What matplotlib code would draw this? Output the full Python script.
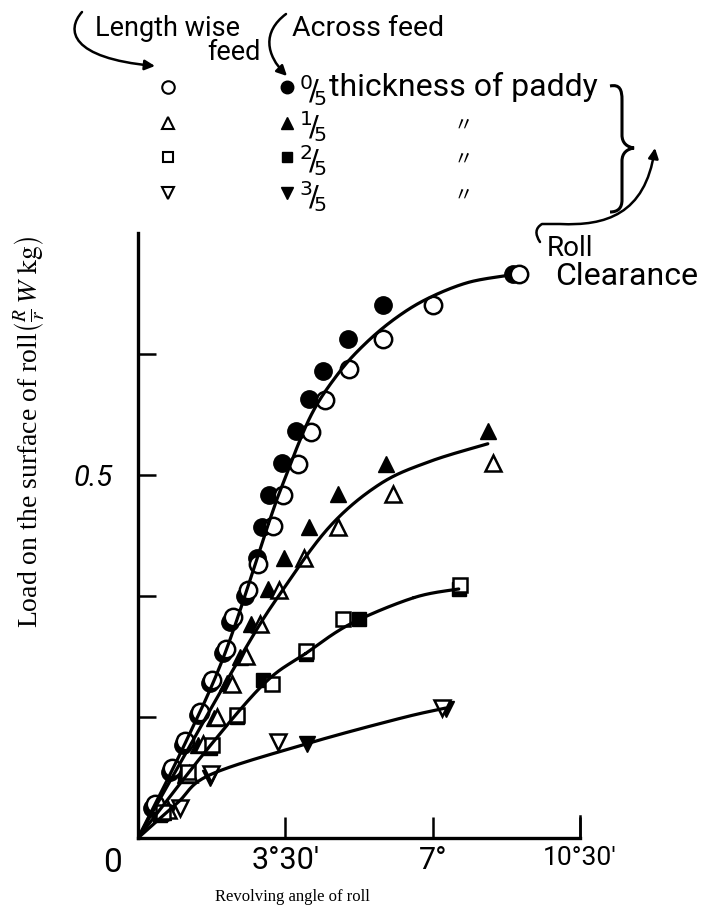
import matplotlib
matplotlib.use("Agg")
import matplotlib.pyplot as plt
from matplotlib.path import Path
from matplotlib.patches import FancyArrowPatch, PathPatch
import numpy as np

# revolving angle of roll (degrees) and load on roll surface (R/r W kg)
# 0/5 thickness of paddy
circ_x_across = [0.33, 0.76, 1.07, 1.43, 1.71, 2.02, 2.19, 2.55, 2.83, 2.95, 3.12, 3.43, 3.76, 4.07, 4.40, 5.00, 5.83, 8.90]
circ_y_across = [0.041, 0.091, 0.128, 0.169, 0.213, 0.255, 0.297, 0.334, 0.385, 0.429, 0.473, 0.516, 0.560, 0.604, 0.643, 0.688, 0.734, 0.777]
circ_x_length = [0.40, 0.81, 1.12, 1.48, 1.76, 2.10, 2.26, 2.62, 2.86, 3.21, 3.45, 3.79, 4.10, 4.45, 5.02, 5.81, 7.00, 9.05]
circ_y_length = [0.047, 0.096, 0.133, 0.174, 0.218, 0.261, 0.304, 0.341, 0.378, 0.430, 0.473, 0.515, 0.559, 0.603, 0.646, 0.688, 0.734, 0.777]
circ_curve_x = [0, 1.10, 2.07, 3.10, 3.45, 4.10, 4.76, 5.40, 6.12, 6.88, 7.83, 8.79]
circ_curve_y = [0, 0.128, 0.255, 0.433, 0.489, 0.581, 0.640, 0.681, 0.716, 0.743, 0.765, 0.775]

# 1/5 thickness
tri_x_across = [0.60, 1.12, 1.43, 1.81, 2.12, 2.43, 2.69, 3.10, 3.48, 4.07, 4.76, 5.88, 8.31]
tri_y_across = [0.036, 0.087, 0.128, 0.165, 0.213, 0.249, 0.295, 0.343, 0.385, 0.429, 0.474, 0.515, 0.560]
tri_x_length = [0.71, 1.21, 1.55, 1.88, 2.24, 2.57, 2.90, 3.36, 3.95, 4.74, 6.05, 8.43]
tri_y_length = [0.038, 0.088, 0.129, 0.166, 0.212, 0.251, 0.295, 0.341, 0.385, 0.429, 0.474, 0.516]
tri_curve_x = [0, 2.43, 3.43, 4.57, 5.76, 6.95, 8.31]
tri_curve_y = [0, 0.249, 0.341, 0.430, 0.488, 0.519, 0.543]

# 2/5 thickness
sq_x_across = [0.52, 1.12, 1.71, 2.36, 2.98, 3.98, 5.24, 7.62]
sq_y_across = [0.032, 0.087, 0.124, 0.166, 0.217, 0.254, 0.302, 0.343]
sq_x_length = [0.60, 1.19, 1.76, 2.36, 3.19, 4.00, 4.88, 7.64]
sq_y_length = [0.036, 0.091, 0.128, 0.170, 0.212, 0.258, 0.302, 0.349]
sq_curve_x = [0, 1.67, 3.02, 3.98, 5.05, 6.55, 7.62]
sq_curve_y = [0, 0.124, 0.214, 0.254, 0.295, 0.331, 0.343]

# 3/5 thickness
dtri_x_across = [0.71, 1.71, 4.02, 7.31]
dtri_y_across = [0.034, 0.082, 0.130, 0.177]
dtri_x_length = [1.00, 1.74, 3.33, 7.21]
dtri_y_length = [0.041, 0.088, 0.132, 0.179]
dtri_curve_x = [0, 0.93, 1.71, 4.02, 6.24, 7.31]
dtri_curve_y = [0, 0.048, 0.087, 0.130, 0.165, 0.179]

x_ticks = [3.5, 7.0, 10.5]
x_ticklabels = ['3°30′', '7°', '10°30′']
y_ticks = [1/6, 2/6, 3/6, 4/6]
y_ticklabels = ['', '', '0.5', '']

W, H = 714, 921
fig = plt.figure(figsize=(W/100, H/100), dpi=100)

def fx(px):
    return px / W

def fy(py):
    return 1 - py / H

ax = fig.add_axes([fx(138), fy(838), (580-138)/W, (838-233)/H])
ax.set_xlim(0, 10.5)
ax.set_ylim(0, 5/6)
for s in ['top', 'right']:
    ax.spines[s].set_visible(False)
for s in ['left', 'bottom']:
    ax.spines[s].set_linewidth(2.4)

hand = ['Roboto', 'DejaVu Sans']

ax.set_xticks(x_ticks)
ax.set_xticklabels(x_ticklabels, family=hand, fontsize=22)
ax.get_xticklabels()[2].set_fontsize(19)
ax.set_yticks(y_ticks)
ax.set_yticklabels(y_ticklabels, family=hand, fontsize=21, style='italic')
ax.tick_params(axis='x', direction='in', length=15, width=1.8, pad=6)
ax.tick_params(axis='y', direction='in', length=13, width=1.8, pad=18)
ax.text(-0.6, -0.012, '0', family=hand, fontsize=24, ha='center', va='top')


def smooth(xs, ys, n=30):
    # Catmull-Rom through the points
    p = np.column_stack([xs, ys]).astype(float)
    p = np.vstack([p[0], p, p[-1]])
    out = []
    t = np.linspace(0, 1, n)[:, None]
    for i in range(1, len(p) - 2):
        p0, p1, p2, p3 = p[i-1], p[i], p[i+1], p[i+2]
        seg = 0.5 * ((2*p1) + (-p0 + p2)*t + (2*p0 - 5*p1 + 4*p2 - p3)*t**2 + (-p0 + 3*p1 - 3*p2 + p3)*t**3)
        out.append(seg)
    out = np.vstack(out)
    return out[:, 0], out[:, 1]

groups = [
    (circ_x_across, circ_y_across, circ_x_length, circ_y_length, circ_curve_x, circ_curve_y, 'o', 12.5),
    (tri_x_across, tri_y_across, tri_x_length, tri_y_length, tri_curve_x, tri_curve_y, '^', 11.5),
    (sq_x_across, sq_y_across, sq_x_length, sq_y_length, sq_curve_x, sq_curve_y, 's', 9.5),
    (dtri_x_across, dtri_y_across, dtri_x_length, dtri_y_length, dtri_curve_x, dtri_curve_y, 'v', 11.5),
]

for xa, ya, xb, yb, cx, cy, m, ms in groups:
    ax.plot(xa, ya, ls='none', marker=m, ms=ms, mfc='black', mec='black', zorder=3, clip_on=False)
    ax.plot(xb, yb, ls='none', marker=m, ms=ms, mfc='white', mec='black', mew=1.8, zorder=3.5, clip_on=False)
    xs, ys = smooth(cx, cy)
    ax.plot(xs, ys, color='black', lw=2.3, zorder=4, solid_capstyle='round')

# right end tick of the x axis
ax.plot([10.5, 10.5], [0, 0.03], color='black', lw=1.8, clip_on=False)

fig.text(fx(292), fy(897), 'Revolving angle of roll', family='Liberation Serif',
         fontsize=12, ha='center', va='center')
fig.text(fx(30), fy(432), r'Load on the surface of roll$\left(\frac{R}{r}\,W\ \mathrm{kg}\right)$',
         family='Liberation Serif', fontsize=20, rotation=90, ha='center', va='center',
         math_fontfamily='stix')

# overlay in pixel coordinates for the hand-drawn legend
ov = fig.add_axes([0, 0, 1, 1])
ov.set_xlim(0, W)
ov.set_ylim(H, 0)
ov.axis('off')

ov.text(95, 36, 'Length wise', family=hand, fontsize=19.5, ha='left', va='baseline')
ov.text(207, 60, 'feed', family=hand, fontsize=19.5, ha='left', va='baseline')
ov.text(292, 36, 'Across feed', family=hand, fontsize=20.5, ha='left', va='baseline')

p1 = Path([(82, 12), (66, 30), (70, 58), (155, 66)], [Path.MOVETO, Path.CURVE4, Path.CURVE4, Path.CURVE4])
ov.add_patch(FancyArrowPatch(path=p1, arrowstyle='-|>,head_length=6,head_width=3', lw=1.8, color='black'))
p2 = Path([(286, 14), (262, 32), (266, 55), (287, 76)], [Path.MOVETO, Path.CURVE4, Path.CURVE4, Path.CURVE4])
ov.add_patch(FancyArrowPatch(path=p2, arrowstyle='-|>,head_length=6,head_width=3', lw=1.8, color='black'))

row_y = [87, 123, 157, 193]
row_marks = ['o', '^', 's', 'v']
row_ms = [9, 8, 7, 8]
fracs = [r'$^{0}\!/\!_{5}$', r'$^{1}\!/\!_{5}$', r'$^{2}\!/\!_{5}$', r'$^{3}\!/\!_{5}$']
for yy, m, ms, fr in zip(row_y, row_marks, row_ms, fracs):
    ov.plot([168], [yy], marker=m, ms=ms, mfc='white', mec='black', mew=1.5)
    ov.plot([287], [yy], marker=m, ms=ms, mfc='black', mec='black')
    ov.text(299, yy + 4, fr, fontsize=21, ha='left', va='center', math_fontfamily='dejavusans')
ov.text(329, 87, 'thickness of paddy', family=hand, fontsize=23, ha='left', va='center')
for yy in row_y[1:]:
    ov.text(463, yy + 2, '〃', family=['Noto Sans CJK JP', 'DejaVu Sans'], fontsize=14, ha='center', va='center')

brace = Path([(610, 86), (620, 84), (622, 90), (622, 100), (622, 135),
              (622, 143), (627, 147), (634, 148),
              (627, 149), (622, 153), (622, 161), (622, 200),
              (622, 208), (618, 212), (610, 212)],
             [Path.MOVETO, Path.CURVE4, Path.CURVE4, Path.CURVE4, Path.LINETO,
              Path.CURVE4, Path.CURVE4, Path.CURVE4,
              Path.CURVE4, Path.CURVE4, Path.CURVE4, Path.LINETO,
              Path.CURVE4, Path.CURVE4, Path.CURVE4])
ov.add_patch(PathPatch(brace, fill=False, lw=2.2, color='black'))

p3 = Path([(540, 242), (532, 230), (542, 224), (560, 224), (605, 226), (645, 215), (655, 148)],
          [Path.MOVETO, Path.CURVE3, Path.CURVE3, Path.LINETO, Path.CURVE4, Path.CURVE4, Path.CURVE4])
ov.add_patch(FancyArrowPatch(path=p3, arrowstyle='-|>,head_length=6,head_width=3', lw=1.8, color='black'))
ov.text(547, 256, 'Roll', family=hand, fontsize=20, ha='left', va='baseline')
ov.text(555, 285, 'Clearance', family=hand, fontsize=23, ha='left', va='baseline')

fig.savefig('out.png', dpi=100)
